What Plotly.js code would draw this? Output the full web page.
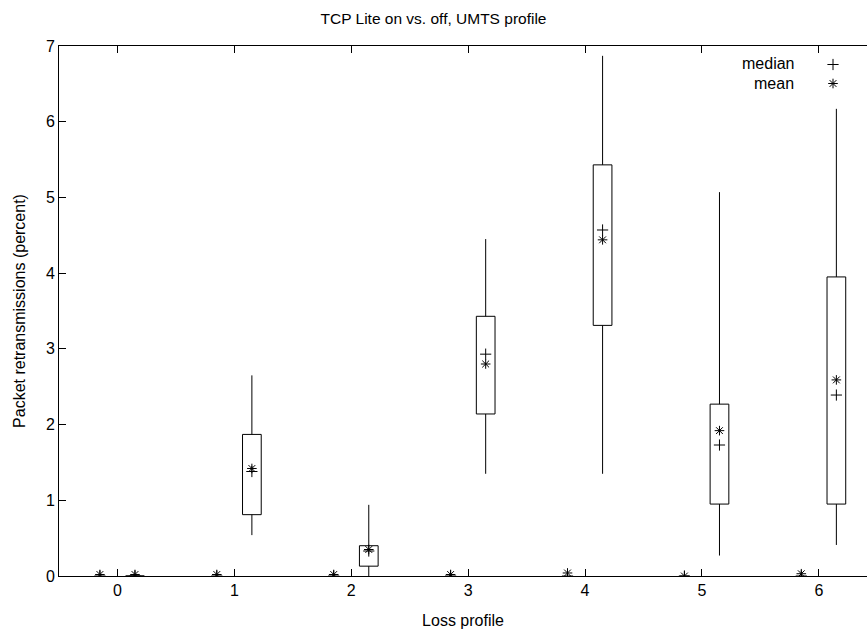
<!DOCTYPE html>
<html>
<head>
<meta charset="utf-8">
<script src="https://cdn.plot.ly/plotly-3.0.1.min.js"></script>
<style>html,body{margin:0;padding:0;background:#fff;}#chart{width:867px;height:632px;}</style>
</head>
<body>
<div id="chart"></div>
<script>
// Loss profiles (category positions)
var profiles = [0, 1, 2, 3, 4, 5, 6];
var tickLabels = ["0", "1", "2", "3", "4", "5", "6"];

// TCP Lite ON (drawn at profile + 0.15)
var onLow    = [0, 0.54, 0.00, 1.35, 1.35, 0.27, 0.41];
var onQ1     = [0, 0.81, 0.13, 2.14, 3.31, 0.95, 0.95];
var onMedian = [0, 1.38, 0.33, 2.93, 4.57, 1.73, 2.39];
var onMean   = [0.02, 1.42, 0.35, 2.80, 4.44, 1.92, 2.59];
var onQ3     = [0, 1.87, 0.40, 3.43, 5.43, 2.27, 3.95];
var onHigh   = [0, 2.65, 0.94, 4.45, 6.87, 5.07, 6.17];

// TCP Lite OFF (drawn at profile - 0.15)
var offMedian = [0, 0, 0, 0, 0, 0, 0];
var offMean   = [0.02, 0.02, 0.02, 0.02, 0.04, 0.00, 0.03];

var shift = 0.15;
var boxWidth = 0.16;

var onX = profiles.map(function(p){return p + shift;});
var offX = profiles.map(function(p){return p - shift;});

// whiskers
var wx = [], wy = [];
for (var i = 0; i < profiles.length; i++) {
  wx.push(onX[i], onX[i], null, onX[i], onX[i], null);
  wy.push(onLow[i], onQ1[i], null, onQ3[i], onHigh[i], null);
}

var black = '#000';
var traces = [
  {type:'scatter', mode:'lines', x:wx, y:wy, line:{color:black, width:1}, showlegend:false, hoverinfo:'skip'},
  {type:'bar', x:onX, base:onQ1, y:onQ3.map(function(v,i){return v - onQ1[i];}), width:boxWidth,
   marker:{color:'#fff', line:{color:black, width:1}}, showlegend:false, hoverinfo:'skip'},
  {type:'scatter', mode:'markers', x:offX, y:offMedian, marker:{symbol:'cross-thin-open', size:8, color:black, line:{color:black, width:1}}, showlegend:false},
  {type:'scatter', mode:'markers', x:offX, y:offMean, marker:{symbol:'asterisk-open', size:8, color:black, line:{color:black, width:1}}, showlegend:false},
  {type:'scatter', mode:'markers', x:onX, y:onMedian, name:' ', marker:{symbol:'cross-thin-open', size:8, color:black, line:{color:black, width:1}}, showlegend:true},
  {type:'scatter', mode:'markers', x:onX, y:onMean, name:' ', marker:{symbol:'asterisk-open', size:8, color:black, line:{color:black, width:1}}, showlegend:true}
];

var font = {family:'Liberation Sans, Arial, Helvetica, sans-serif', size:16, color:'#000'};

var layout = {
  width:867, height:632,
  margin:{l:59, r:0, t:46, b:56, pad:0},
  paper_bgcolor:'#fff', plot_bgcolor:'#fff',
  font:font,
  title:{text:'TCP Lite on vs. off, UMTS profile', font:{family:font.family, size:15.5, color:'#000'}, x:0.5, xref:'container', y:1-19/632, yref:'container', yanchor:'middle'},
  xaxis:{
    range:[-0.5, 6.412], tickmode:'array', tickvals:profiles, ticktext:tickLabels,
    ticks:'inside', ticklen:7, tickwidth:1, tickcolor:black,
    showline:true, linecolor:black, linewidth:1, mirror:'ticks',
    showgrid:false, zeroline:false, fixedrange:true,
    title:{text:'Loss profile', font:font, standoff:16}
  },
  yaxis:{
    range:[0, 7], tickmode:'array', tickvals:[0,1,2,3,4,5,6,7],
    ticks:'inside', ticklen:7, tickwidth:1, tickcolor:black,
    showline:true, linecolor:black, linewidth:1, mirror:false,
    showgrid:false, zeroline:false, fixedrange:true,
    title:{text:'Packet retransmissions (percent)', font:font, standoff:16}
  },
  bargap:0,
  showlegend:true,
  legend:{x:(813-59)/808, xanchor:'left', y:(576-50)/530, yanchor:'top', bgcolor:'rgba(0,0,0,0)', borderwidth:0, tracegroupgap:0, font:{family:font.family, size:8, color:'#000'}, itemwidth:30},
  annotations:[
    {text:'median', xref:'paper', yref:'paper', x:(796-59)/808, y:(576-63)/530, xanchor:'right', yanchor:'middle', showarrow:false, font:font},
    {text:'mean', xref:'paper', yref:'paper', x:(796-59)/808, y:(576-83)/530, xanchor:'right', yanchor:'middle', showarrow:false, font:font}
  ]
};

Plotly.newPlot('chart', traces, layout, {displayModeBar:false, staticPlot:true});
</script>
</body>
</html>
